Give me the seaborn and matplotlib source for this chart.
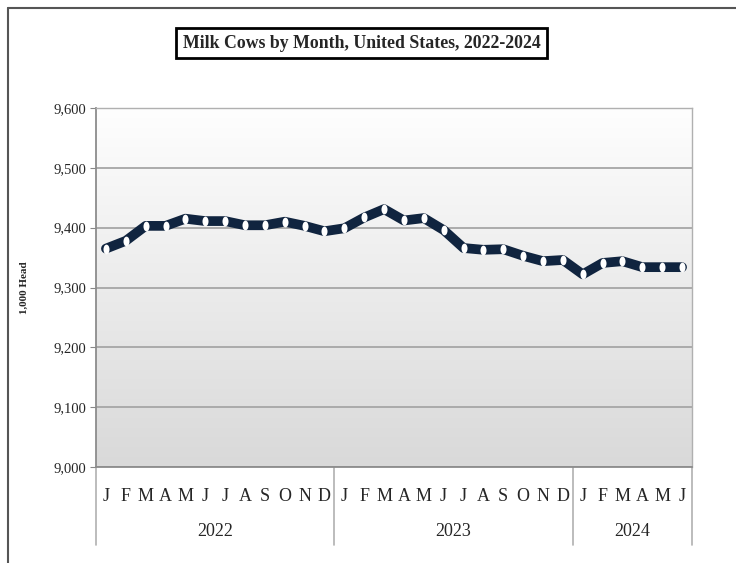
import numpy as np
import pandas as pd
import matplotlib
matplotlib.use("Agg")
import matplotlib.pyplot as plt
import seaborn as sns
from matplotlib.colors import LinearSegmentedColormap
from matplotlib.lines import Line2D
from matplotlib.path import Path

# Data (1,000 head)
years = ["2022", "2023", "2024"]
months_per_year = [12, 12, 6]
month_letters = ["J", "F", "M", "A", "M", "J", "J", "A", "S", "O", "N", "D"]
cows_2022 = [9365, 9378, 9403, 9403, 9415, 9411, 9411, 9404, 9404, 9410, 9403, 9394]
cows_2023 = [9399, 9417, 9431, 9412, 9416, 9396, 9366, 9363, 9364, 9353, 9344, 9346]
cows_2024 = [9322, 9341, 9344, 9334, 9334, 9334]
y_ticks = [9000, 9100, 9200, 9300, 9400, 9500, 9600]

values = cows_2022 + cows_2023 + cows_2024
labels = []
for n in months_per_year:
    labels += month_letters[:n]
df = pd.DataFrame({"pos": np.arange(len(values)), "cows": values})

sns.set_style("white")
plt.rcParams["font.family"] = ["Liberation Serif", "DejaVu Serif"]

fig = plt.figure(figsize=(7.36, 5.63), dpi=100)
ax = fig.add_axes([96 / 736, 1 - 467 / 563, 596 / 736, 359 / 563])

# gradient plot area
cmap = LinearSegmentedColormap.from_list("bg", ["#fefefe", "#d9d9d9"])
ax.imshow(np.linspace(0, 1, 256).reshape(-1, 1), cmap=cmap, aspect="auto",
          extent=[-0.5, len(values) - 0.5, 9000, 9600], zorder=0)

for t in y_ticks:
    ax.axhline(t, color="#a6a6a6", lw=1.3, zorder=1)

ellipse = Path(Path.unit_circle().vertices * [0.62, 1.0], Path.unit_circle().codes)
sns.lineplot(data=df, x="pos", y="cows", ax=ax, color="#10243f", lw=7,
             solid_joinstyle="round", solid_capstyle="round",
             marker=ellipse, markersize=7, markerfacecolor="white",
             markeredgecolor="white", markeredgewidth=0, zorder=3)

ax.set_xlim(-0.5, len(values) - 0.5)
ax.set_ylim(9000, 9600)
ax.set_yticks(y_ticks)
ax.set_yticklabels([f"{t:,}" for t in y_ticks], fontsize=10.5)
ax.tick_params(axis="y", length=4, color="#888888", pad=3, left=True)
ax.set_xticks(df["pos"])
ax.set_xticklabels(labels, fontsize=13)
ax.tick_params(axis="x", length=0, pad=15)
ax.set_xlabel("")
ax.set_ylabel("1,000 Head", fontsize=8, fontweight="bold")
ax.yaxis.set_label_coords(-0.112, 0.5)

for side in ["left", "bottom"]:
    ax.spines[side].set_color("#8c8c8c")
    ax.spines[side].set_linewidth(1.3)
for side in ["right", "top"]:
    ax.spines[side].set_color("#b0b0b0")
    ax.spines[side].set_linewidth(1.0)

# year group separators and labels below the axis
trans = ax.get_xaxis_transform()
start = -0.5
for yr, n in zip(years, months_per_year):
    end = start + n
    ax.text((start + end) / 2, -0.18, yr, transform=trans, ha="center",
            va="center", fontsize=13)
    start = end
bounds = np.cumsum([0] + months_per_year) - 0.5
for b in bounds:
    ax.plot([b, b], [0, -0.217], transform=trans, color="#b0b0b0", lw=1.2,
            clip_on=False)

# outer chart frame (top and left edges visible)
fig.add_artist(Line2D([8 / 736, 1], [1 - 8 / 563, 1 - 8 / 563],
                      transform=fig.transFigure, color="#555555", lw=1.5))
fig.add_artist(Line2D([8 / 736, 8 / 736], [0, 1 - 8 / 563],
                      transform=fig.transFigure, color="#555555", lw=1.5))

fig.text(361.5 / 736, 1 - 43 / 563, "Milk Cows by Month, United States, 2022-2024",
         ha="center", va="center", fontsize=12.8, fontweight="bold",
         bbox=dict(boxstyle="square,pad=0.35", facecolor="white",
                   edgecolor="black", linewidth=2))

fig.savefig("out.png", dpi=100)
